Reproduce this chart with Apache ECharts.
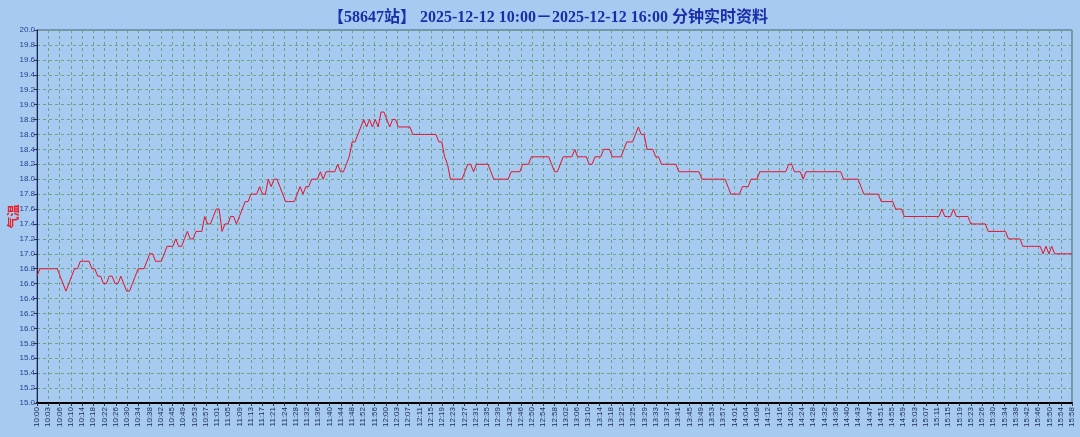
<!DOCTYPE html>
<html><head><meta charset="utf-8">
<script src="https://cdn.jsdelivr.net/npm/echarts@6/dist/echarts.min.js"></script>
<style>html,body{margin:0;padding:0;background:#A6CAF0;}#c{width:1080px;height:437px;}</style>
</head><body><div id="c"></div>
<script>
// Temperature (气温) per minute, 10:00 .. 15:58
const temps = [
16.7,16.8,16.8,16.8,16.8,16.8,16.8,16.8,16.7,16.6,
16.5,16.6,16.7,16.8,16.8,16.9,16.9,16.9,16.9,16.8,
16.8,16.7,16.7,16.6,16.6,16.7,16.7,16.6,16.6,16.7,
16.6,16.5,16.5,16.6,16.7,16.8,16.8,16.8,16.9,17.0,
17.0,16.9,16.9,16.9,17.0,17.1,17.1,17.1,17.2,17.1,
17.1,17.2,17.3,17.2,17.2,17.3,17.3,17.3,17.5,17.4,
17.4,17.5,17.6,17.6,17.3,17.4,17.4,17.5,17.5,17.4,
17.5,17.6,17.7,17.7,17.8,17.8,17.8,17.9,17.8,17.8,
18.0,17.9,18.0,18.0,17.9,17.8,17.7,17.7,17.7,17.7,
17.8,17.9,17.8,17.9,17.9,18.0,18.0,18.0,18.1,18.0,
18.1,18.1,18.1,18.1,18.2,18.1,18.1,18.2,18.3,18.5,
18.5,18.6,18.7,18.8,18.7,18.8,18.7,18.8,18.7,18.9,
18.9,18.8,18.7,18.8,18.8,18.7,18.7,18.7,18.7,18.7,
18.6,18.6,18.6,18.6,18.6,18.6,18.6,18.6,18.6,18.5,
18.5,18.3,18.2,18.0,18.0,18.0,18.0,18.0,18.1,18.2,
18.2,18.1,18.2,18.2,18.2,18.2,18.2,18.1,18.0,18.0,
18.0,18.0,18.0,18.0,18.1,18.1,18.1,18.1,18.2,18.2,
18.2,18.3,18.3,18.3,18.3,18.3,18.3,18.3,18.2,18.1,
18.1,18.2,18.3,18.3,18.3,18.3,18.4,18.3,18.3,18.3,
18.3,18.2,18.2,18.3,18.3,18.3,18.4,18.4,18.4,18.3,
18.3,18.3,18.3,18.4,18.5,18.5,18.5,18.6,18.7,18.6,
18.6,18.4,18.4,18.4,18.3,18.3,18.2,18.2,18.2,18.2,
18.2,18.2,18.1,18.1,18.1,18.1,18.1,18.1,18.1,18.1,
18.0,18.0,18.0,18.0,18.0,18.0,18.0,18.0,18.0,17.9,
17.8,17.8,17.8,17.8,17.9,17.9,17.9,18.0,18.0,18.0,
18.1,18.1,18.1,18.1,18.1,18.1,18.1,18.1,18.1,18.1,
18.2,18.2,18.1,18.1,18.1,18.0,18.1,18.1,18.1,18.1,
18.1,18.1,18.1,18.1,18.1,18.1,18.1,18.1,18.1,18.0,
18.0,18.0,18.0,18.0,18.0,17.9,17.8,17.8,17.8,17.8,
17.8,17.8,17.7,17.7,17.7,17.7,17.7,17.6,17.6,17.6,
17.5,17.5,17.5,17.5,17.5,17.5,17.5,17.5,17.5,17.5,
17.5,17.5,17.5,17.6,17.5,17.5,17.5,17.6,17.5,17.5,
17.5,17.5,17.5,17.4,17.4,17.4,17.4,17.4,17.4,17.3,
17.3,17.3,17.3,17.3,17.3,17.3,17.2,17.2,17.2,17.2,
17.2,17.1,17.1,17.1,17.1,17.1,17.1,17.1,17.0,17.1,
17.0,17.1,17.0,17.0,17.0,17.0,17.0,17.0,17.0
];

const tickLabels = [
'10:00','10:03','10:06','10:10','10:14','10:18','10:22','10:26','10:30','10:34',
'10:38','10:42','10:45','10:49','10:53','10:57','11:01','11:05','11:09','11:13',
'11:17','11:21','11:24','11:28','11:32','11:36','11:40','11:44','11:48','11:52',
'11:56','12:00','12:03','12:07','12:11','12:15','12:19','12:23','12:27','12:31',
'12:35','12:39','12:43','12:46','12:50','12:54','12:58','13:02','13:06','13:10',
'13:14','13:18','13:22','13:25','13:29','13:33','13:37','13:41','13:45','13:49',
'13:53','13:57','14:01','14:04','14:08','14:12','14:16','14:20','14:24','14:28',
'14:32','14:36','14:40','14:43','14:47','14:51','14:55','14:59','15:03','15:07',
'15:11','15:15','15:19','15:23','15:26','15:30','15:34','15:38','15:42','15:46',
'15:50','15:54','15:58'
];

const yTicks = {min: 15.0, max: 20.0, step: 0.2};
const titleText = '【58647站】 2025-12-12 10:00－2025-12-12 16:00 分钟实时资料';
const yName = '气温';

// position of each minute in tick-label units (labels are evenly spaced)
const steps = tickLabels.length - 1;
const lastMinute = temps.length - 1;
const seriesData = temps.map((v, i) => [i * steps / lastMinute, v]);

const chart = echarts.init(document.getElementById('c'), null, {renderer: 'canvas'});
chart.setOption({
  animation: false,
  backgroundColor: '#A6CAF0',
  title: {
    text: titleText,
    left: 543, textAlign: 'center', top: 5,
    textStyle: {color: '#1b2da8', fontSize: 16, fontWeight: 'bold',
      fontFamily: "'Liberation Serif','Noto Sans CJK SC',serif"}
  },
  grid: {left: 37, right: 8, top: 30, bottom: 34, show: true,
    outerBoundsMode: 'none', containLabel: false,
    borderColor: '#4a5a80', borderWidth: 1, backgroundColor: 'transparent'},
  xAxis: {
    type: 'value', min: 0, max: steps, interval: 1,
    axisLine: {show: true, onZero: false, lineStyle: {color: '#000', width: 2}},
    axisTick: {show: true, length: 3, lineStyle: {color: '#333'}},
    axisLabel: {
      rotate: 90, fontSize: 8, color: '#1c2a55', margin: 4,
      fontFamily: "'Liberation Sans',Arial,sans-serif",
      formatter: v => tickLabels[Math.round(v)] || ''
    },
    splitLine: {show: true, lineStyle: {color: '#6fa386', type: [3, 3], width: 1}}
  },
  yAxis: {
    type: 'value', min: yTicks.min, max: yTicks.max, interval: yTicks.step,
    name: yName, nameLocation: 'middle', nameRotate: 90, nameGap: 18,
    nameMoveOverlap: false,
    nameTextStyle: {color: '#e8202a', fontSize: 12, fontWeight: 'bold',
      fontFamily: "'Noto Sans CJK SC',sans-serif"},
    axisLine: {show: true, lineStyle: {color: '#1a2456', width: 1}},
    axisTick: {show: true, length: 3, lineStyle: {color: '#333'}},
    axisLabel: {fontSize: 8, color: '#2a3b8c', margin: 2,
      fontFamily: "'Liberation Sans',Arial,sans-serif",
      formatter: v => v.toFixed(1)},
    splitLine: {show: true, lineStyle: {color: '#6fa386', type: [3, 3], width: 1}}
  },
  series: [{
    type: 'line', data: seriesData, showSymbol: false, symbol: 'none',
    lineStyle: {color: '#e8102a', width: 1}, silent: true
  }]
});
</script></body></html>
